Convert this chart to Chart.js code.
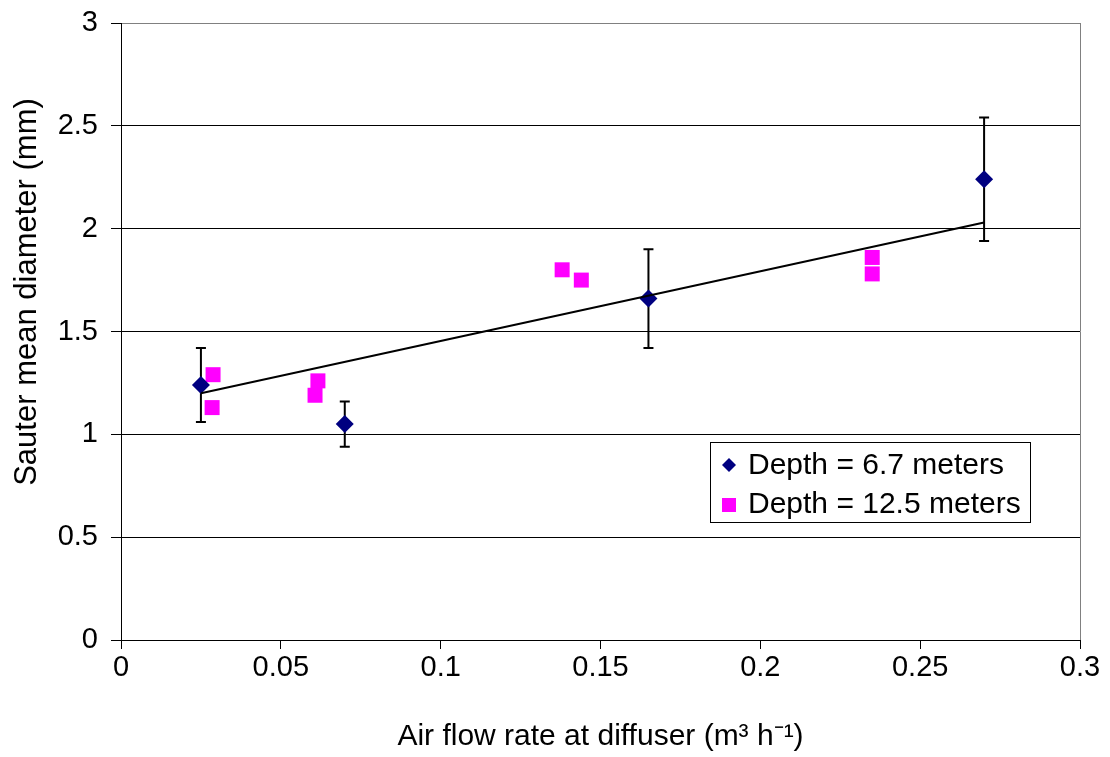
<!DOCTYPE html>
<html>
<head>
<meta charset="utf-8">
<script src="https://cdn.jsdelivr.net/npm/chart.js@4.4.0/dist/chart.umd.min.js"></script>
<style>
    html, body { margin: 0; padding: 0; background: #fff; }
    #wrap { width: 1110px; height: 757px; }
</style>
</head>
<body>
<div id="wrap"><canvas id="chart" width="1110" height="757"></canvas></div>
<script>
// 数据：深度 6.7 米（菱形，带误差棒）
const depth67X = [0.025, 0.070, 0.165, 0.270];
const depth67Y = [1.24, 1.05, 1.66, 2.24];
const depth67Low = [1.06, 0.94, 1.42, 1.94];
const depth67High = [1.42, 1.16, 1.90, 2.54];

// 数据：深度 12.5 米（方块）
const depth125X = [0.0288, 0.0285, 0.0616, 0.0607, 0.138, 0.144, 0.235, 0.235];
const depth125Y = [1.29, 1.13, 1.26, 1.19, 1.80, 1.75, 1.86, 1.78];

// 趋势线端点
const trendX = [0.025, 0.270];
const trendY = [1.20, 2.03];

// 坐标轴刻度
const xTicks = [0, 0.05, 0.1, 0.15, 0.2, 0.25, 0.3];
const yTicks = [0, 0.5, 1, 1.5, 2, 2.5, 3];

const legendLabels = ['Depth = 6.7 meters', 'Depth = 12.5 meters'];
const yTitle = 'Sauter mean diameter (mm)';
const FONT = '"Liberation Sans", Arial, sans-serif';

const toPoints = (xs, ys) => xs.map((x, i) => ({ x: x, y: ys[i] }));

// 误差棒插件
const errorBars = {
    id: 'errorBars',
    beforeDatasetsDraw(chart) {
        const { ctx, scales: { x, y } } = chart;
        ctx.save();
        ctx.strokeStyle = '#000';
        ctx.lineWidth = 2;
        depth67X.forEach((v, i) => {
            const px = x.getPixelForValue(v);
            const top = y.getPixelForValue(depth67High[i]);
            const bot = y.getPixelForValue(depth67Low[i]);
            ctx.beginPath();
            ctx.moveTo(px, top);
            ctx.lineTo(px, bot);
            ctx.moveTo(px - 5, top);
            ctx.lineTo(px + 5, top);
            ctx.moveTo(px - 5, bot);
            ctx.lineTo(px + 5, bot);
            ctx.stroke();
        });
        ctx.restore();
    }
};

// 图例 + 纵轴标题插件
const boxLegend = {
    id: 'boxLegend',
    afterDraw(chart) {
        const ctx = chart.ctx;
        const left = 710, top = 442, w = 320, h = 80;
        ctx.save();
        ctx.fillStyle = '#fff';
        ctx.fillRect(left, top, w, h);
        ctx.strokeStyle = '#000';
        ctx.lineWidth = 1;
        ctx.strokeRect(left + 0.5, top + 0.5, w, h);

        ctx.font = '30px ' + FONT;
        ctx.fillStyle = '#000';
        ctx.textBaseline = 'middle';
        ctx.fillText(legendLabels[0], 748, top + 24);
        ctx.fillText(legendLabels[1], 748, top + 63);

        ctx.fillStyle = '#000080';
        ctx.beginPath();
        const dx = 729, dy = top + 23;
        ctx.moveTo(dx - 7, dy);
        ctx.lineTo(dx, dy - 7);
        ctx.lineTo(dx + 7, dy);
        ctx.lineTo(dx, dy + 7);
        ctx.closePath();
        ctx.fill();

        ctx.fillStyle = '#ff00ff';
        ctx.fillRect(722, top + 56, 14, 14);

        // 纵轴标题（Excel 中略偏上）
        ctx.translate(27, 292);
        ctx.rotate(-Math.PI / 2);
        ctx.fillStyle = '#000';
        ctx.font = '31px ' + FONT;
        ctx.textAlign = 'center';
        ctx.textBaseline = 'middle';
        ctx.fillText(yTitle, 0, 0);
        ctx.restore();
    }
};

new Chart(document.getElementById('chart'), {
    type: 'scatter',
    data: {
        datasets: [
            {
                label: 'trend',
                type: 'line',
                data: toPoints(trendX, trendY),
                borderColor: '#000',
                borderWidth: 2,
                pointRadius: 0,
                fill: false,
                order: 0
            },
            {
                label: legendLabels[0],
                data: toPoints(depth67X, depth67Y),
                pointStyle: 'rectRot',
                pointRadius: 9,
                backgroundColor: '#000080',
                borderColor: '#000080',
                borderWidth: 0,
                order: 1
            },
            {
                label: legendLabels[1],
                data: toPoints(depth125X, depth125Y),
                pointStyle: 'rect',
                pointRadius: 10.6,
                backgroundColor: '#ff00ff',
                borderColor: '#ff00ff',
                borderWidth: 0,
                order: 2
            }
        ]
    },
    options: {
        responsive: false,
        animation: false,
        layout: { padding: { left: 0, right: 30, top: 23, bottom: 0 } },
        plugins: {
            legend: { display: false },
            tooltip: { enabled: false }
        },
        scales: {
            x: {
                type: 'linear',
                min: 0,
                max: 0.3,
                afterBuildTicks: s => { s.ticks = xTicks.map(v => ({ value: v })); },
                afterFit: s => { s.height = 117; },
                ticks: {
                    color: '#000',
                    padding: 2,
                    font: { family: FONT, size: 29 },
                    maxRotation: 0,
                    callback: v => String(v)
                },
                grid: {
                    color: c => (c.tick && c.tick.value === 0.3) ? '#808080' : 'rgba(0,0,0,0)',
                    tickColor: '#000',
                    tickLength: 9,
                    lineWidth: 1
                },
                border: { color: '#000', width: 1 },
                title: {
                    display: true,
                    text: 'Air flow rate at diffuser (m³ h⁻¹)',
                    color: '#000',
                    font: { family: FONT, size: 30 },
                    padding: { top: 0, bottom: 2 }
                }
            },
            y: {
                type: 'linear',
                min: 0,
                max: 3,
                afterBuildTicks: s => { s.ticks = yTicks.map(v => ({ value: v })); },
                afterFit: s => {
                    s.width = 121;
                    s.paddingTop = 0;
                    s.paddingBottom = 0;
                },
                ticks: {
                    color: '#000',
                    padding: 13,
                    font: { family: FONT, size: 29 },
                    callback: v => String(v)
                },
                grid: {
                    color: c => (c.tick && c.tick.value === 3) ? '#808080' : '#000',
                    tickColor: '#000',
                    tickLength: 10,
                    lineWidth: 1
                },
                border: { color: '#000', width: 1 }
            }
        }
    },
    plugins: [errorBars, boxLegend]
});
</script>
</body>
</html>
